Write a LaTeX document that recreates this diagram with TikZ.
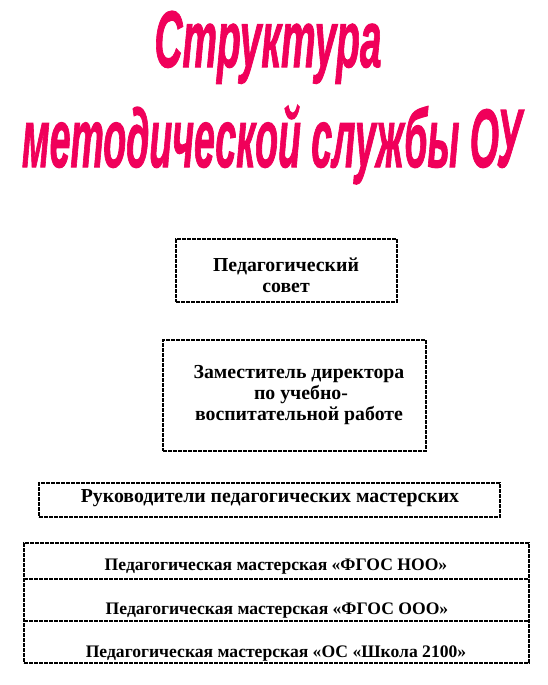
\documentclass[tikz,border=0pt]{standalone}
\usepackage{fontspec}
\setmainfont{Liberation Serif}
\newfontfamily\titlefont[BoldItalicFeatures={FakeBold=1.6}]{Liberation Sans}
\definecolor{titlepink}{RGB}{240,0,90}
\begin{document}
\begin{tikzpicture}[x=1pt,y=-1pt,
  dline/.style={draw=black, line width=1.8pt, dash pattern=on 4pt off 1pt},
  dbox/.style={dline, inner sep=0pt},
  btext/.style={font=\fontsize{19.8}{21}\selectfont\bfseries, align=center, inner sep=0pt, anchor=base},
  ttext/.style={font=\fontsize{17.6}{19}\selectfont\bfseries, inner sep=0pt, anchor=base},
  title/.style={font=\titlefont\bfseries\itshape, text=titlepink, inner sep=0pt, anchor=base}]
\useasboundingbox[fill=white] (0,0) rectangle (548,685);
% title
\node[title] (t1) at (268,67) {\resizebox{227pt}{56pt}{Структура}};
\node[title] (t2) at (272,167) {\resizebox{500pt}{62pt}{методической службы ОУ}};
% boxes
\node[dbox, minimum width=221pt, minimum height=63pt] (b1) at (286.5,270.5) {};
\node[btext] (l1) at (286,292) {Педагогический\\совет};
\node[dbox, minimum width=263pt, minimum height=111pt] (b2) at (294.5,395.5) {};
\node[btext] (l2) at (299,420) {Заместитель директора\\\hspace*{4pt}по учебно-\\воспитательной работе};
\node[dbox, minimum width=461pt, minimum height=34pt] (b3) at (269.5,500) {};
\node[btext] (l3) at (270,502) {Руководители педагогических мастерских};
% table
\node[dbox, minimum width=505pt, minimum height=120pt] (tab) at (276.5,603) {};
\coordinate (r1l) at (24,579); \coordinate (r1r) at (529,579);
\coordinate (r2l) at (24,621); \coordinate (r2r) at (529,621);
\draw[dline] (r1l) -- (r1r);
\draw[dline] (r2l) -- (r2r);
\node[ttext] (m1) at (276,570) {Педагогическая мастерская «ФГОС НОО»};
\node[ttext] (m2) at (277,614) {Педагогическая мастерская «ФГОС ООО»};
\node[ttext] (m3) at (276,657) {Педагогическая мастерская «ОС «Школа 2100»};
\end{tikzpicture}
\end{document}
